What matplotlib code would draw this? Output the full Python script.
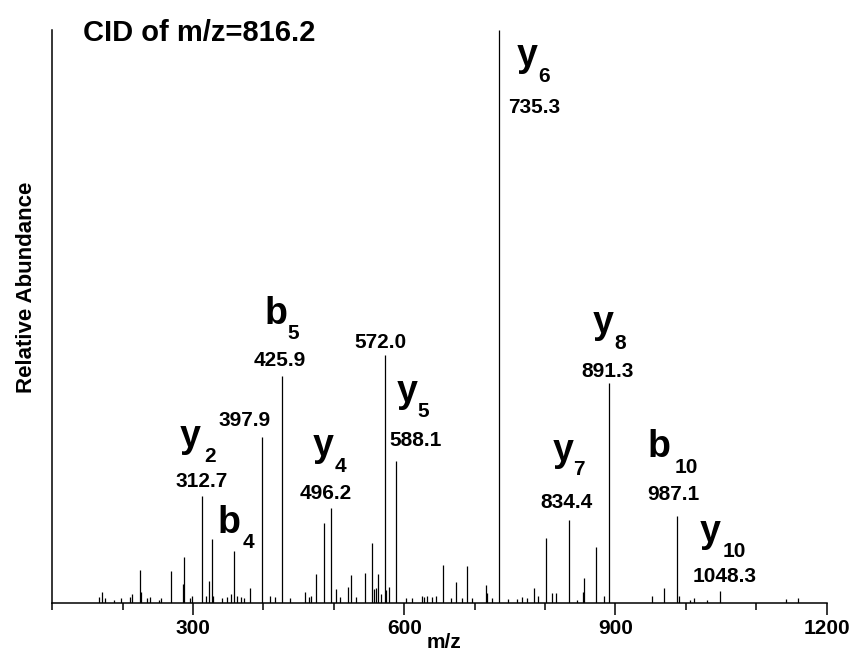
import matplotlib
matplotlib.use("Agg")
import matplotlib.pyplot as plt

plt.rcParams['font.family'] = ['Liberation Sans', 'DejaVu Sans']
plt.rcParams['font.weight'] = 'bold'

# peak list (m/z, relative abundance %)
mz = [166.8, 170, 175, 187, 197, 210, 213, 224, 226, 234, 239, 251, 255, 269,
      285, 287, 295, 299, 312.7, 319, 323, 326.4, 328, 341, 348, 354, 358.5,
      362, 368, 372, 381, 397.9, 409, 416, 425.9, 438, 459, 464, 468, 474,
      486, 496.2, 503, 509, 520.5, 524.3, 532, 544, 553.7, 557, 560, 562.6,
      566.5, 572.0, 574, 579, 588.1, 603, 610.5, 624.6, 628, 632, 639, 645,
      655.5, 667, 673.5, 681.5, 689.6, 695.7, 716, 718, 724, 735.3, 747.7,
      759.6, 766.7, 773.8, 784, 790.3, 802, 810, 816, 834.4, 846, 854, 855.6,
      872.5, 883.8, 891.3, 951.4, 969, 987.1, 990.7, 1005.8, 1012, 1029.6,
      1048.3, 1143, 1159.7]
abundance = [1.0, 1.9, 0.9, 0.5, 0.8, 1.0, 1.5, 5.8, 2.0, 0.9, 1.0, 0.6, 0.8, 5.5,
             3.3, 8.0, 0.8, 1.3, 18.7, 1.3, 3.9, 11.2, 1.3, 0.8, 1.0, 1.5, 9.0,
             1.2, 1.0, 0.8, 2.6, 29.0, 1.2, 1.0, 39.6, 0.9, 2.0, 1.0, 1.2, 5.0,
             14.0, 16.5, 2.4, 1.0, 2.8, 4.9, 1.0, 5.2, 10.4, 2.4, 2.6, 5.0,
             1.5, 43.3, 2.3, 2.8, 24.8, 0.8, 0.8, 1.2, 1.0, 1.2, 1.0, 1.2,
             6.7, 0.9, 3.6, 0.8, 6.5, 0.8, 3.1, 1.7, 0.8, 100.0, 0.7,
             0.7, 1.0, 0.9, 2.7, 1.2, 11.4, 1.7, 1.7, 14.4, 0.6, 2.0, 4.4,
             9.8, 1.2, 38.4, 1.3, 2.7, 15.2, 1.3, 0.5, 0.9, 0.5,
             2.1, 0.7, 0.8]

# fragment ion annotations
ion_letter = ['y', 'y', 'b', 'y', 'y', 'y', 'y', 'b', 'b', 'y']
ion_sub = ['6', '8', '5', '5', '4', '7', '2', '4', '10', '10']
ion_mass = ['735.3', '891.3', '425.9', '588.1', '496.2', '834.4', '312.7', '', '987.1', '1048.3']
extra_mass = ['572.0', '397.9']

# label layout (data coords): letter, subscript, mass text
letter_pos = [(760, 93.7), (868, 47.1), (401, 48.7), (589.6, 35.1), (470.3, 25.7),
              (811.2, 24.8), (281.4, 27.2), (334.4, 12.2), (945.2, 25.5), (1020, 10.6)]
sub_pos = [(790.5, 90.9), (898.4, 44.3), (434, 46.1), (618.6, 32.5), (500.7, 22.9),
           (840.2, 22.3), (316.1, 24.6), (370, 9.6), (984, 22.7), (1051.9, 8.0)]
mass_pos = [(785, 85.5), (889.3, 39.4), (423.4, 41.4), (616.6, 27.4), (488.8, 18.2),
            (831.1, 16.6), (311.9, 20.2), None, (981.7, 18.0), (1054.8, 3.7)]
extra_pos = [(566.9, 44.5), (373.7, 30.9)]

fig = plt.figure(figsize=(8.49, 6.59), dpi=100)
ax = fig.add_axes([0.0616, 0.085, 0.912, 0.8695])

ax.vlines(mz, 0, abundance, color='black', lw=0.9)

for i in range(len(ion_letter)):
    ax.text(*letter_pos[i], ion_letter[i], fontsize=27, fontweight='bold', ha='left', va='baseline')
    ax.text(*sub_pos[i], ion_sub[i], fontsize=15, fontweight='bold', ha='left', va='baseline')
    if mass_pos[i] is not None:
        ax.text(*mass_pos[i], ion_mass[i], fontsize=15, fontweight='bold', ha='center', va='baseline')
for t, p in zip(extra_mass, extra_pos):
    ax.text(*p, t, fontsize=15, fontweight='bold', ha='center', va='baseline')

ax.text(143.6, 98.1, 'CID of m/z=816.2', fontsize=21, fontweight='bold', ha='left', va='baseline')

ax.set_xlim(100, 1200)
ax.set_ylim(0, 100)
ax.set_xticks([300, 600, 900, 1200])
ax.set_xticks([100, 200, 400, 500, 700, 800, 1000, 1100], minor=True)
ax.set_yticks([])
ax.tick_params(axis='x', which='major', direction='out', length=8.5, width=1.1, labelsize=15, pad=3)
ax.tick_params(axis='x', which='minor', direction='out', length=5, width=1.1)
for s in ['top', 'right']:
    ax.spines[s].set_visible(False)
for s in ['left', 'bottom']:
    ax.spines[s].set_linewidth(1.1)

ax.set_xlabel('m/z', fontsize=15, fontweight='bold')
ax.xaxis.set_label_coords(0.5058, -0.052)
ax.set_ylabel('Relative Abundance', fontsize=16, fontweight='bold')
ax.yaxis.set_label_coords(-0.02, 0.551)

fig.savefig('out.png', dpi=100)
